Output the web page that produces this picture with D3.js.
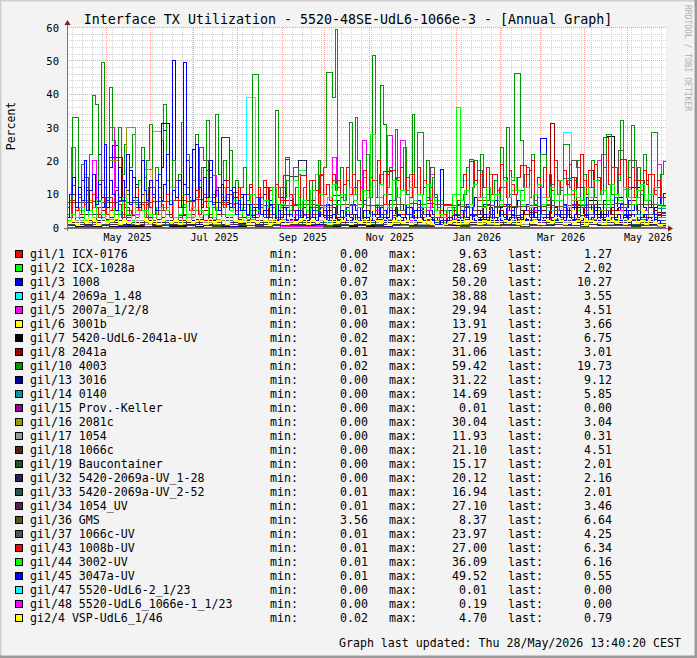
<!DOCTYPE html>
<html>
<head>
<meta charset="utf-8">
<script src="https://cdn.jsdelivr.net/npm/d3@7"></script>
<style>
  html, body { margin: 0; padding: 0; background: #f3f3f3; }
  svg { display: block; font-family: "DejaVu Sans Mono", monospace; }
</style>
</head>
<body>
<svg id="chart" width="697" height="658"></svg>
<script>
// ---- texts ----
const title = "Interface TX Utilization - 5520-48SE-UdL6-1066e-3 - [Annual Graph]";
const yLabel = "Percent";
const footer = "Graph last updated: Thu 28/May/2026 13:40:20 CEST";
const watermark = "RRDTOOL / TOBI OETIKER";

// ---- time range ----
const endTime = new Date(2026, 4, 28, 13, 40, 20);
const spanDays = 420;
const yTicks = [0, 10, 20, 30, 40, 50, 60];

// ---- legend ----
const names = [
  "gil/1 ICX-0176", "gil/2 ICX-1028a", "gil/3 1008", "gil/4 2069a_1.48",
  "gil/5 2007a_1/2/8", "gil/6 3001b", "gil/7 5420-UdL6-2041a-UV", "gil/8 2041a",
  "gil/10 4003", "gil/13 3016", "gil/14 0140", "gil/15 Prov.-Keller",
  "gil/16 2081c", "gil/17 1054", "gil/18 1066c", "gil/19 Baucontainer",
  "gil/32 5420-2069a-UV_1-28", "gil/33 5420-2069a-UV_2-52", "gil/34 1054_UV",
  "gil/36 GMS", "gil/37 1066c-UV", "gil/43 1008b-UV", "gil/44 3002-UV",
  "gil/45 3047a-UV", "gil/47 5520-UdL6-2_1/23", "gil/48 5520-UdL6_1066e-1_1/23",
  "gi2/4 VSP-UdL6_1/46"
];
const minValues = [0.00, 0.02, 0.07, 0.03, 0.01, 0.00, 0.02, 0.01, 0.02, 0.00, 0.00, 0.00, 0.00, 0.00,
  0.00, 0.00, 0.00, 0.01, 0.01, 3.56, 0.01, 0.01, 0.01, 0.01, 0.00, 0.00, 0.02];
const maxValues = [9.63, 28.69, 50.20, 38.88, 29.94, 13.91, 27.19, 31.06, 59.42, 31.22, 14.69, 0.01, 30.04, 11.93,
  21.10, 15.17, 20.12, 16.94, 27.10, 8.37, 23.97, 27.00, 36.09, 49.52, 0.01, 0.19, 4.70];
const lastValues = [1.27, 2.02, 10.27, 3.55, 4.51, 3.66, 6.75, 3.01, 19.73, 9.12, 5.85, 0.00, 3.04, 0.31,
  4.51, 2.01, 2.16, 2.01, 3.46, 6.64, 4.25, 6.34, 6.16, 0.55, 0.00, 0.00, 0.79];

// ---- series (percent, evenly spaced over the range) ----
const gil1 = [
  2, 3, 1, 4, 2, 5, 3, 1, 2, 4, 3, 6, 2, 1, 3, 5, 2, 4, 7, 3,
  5, 2, 6, 4, 3, 8, 5, 2, 4, 6, 3, 9.63, 5, 4, 7, 3, 6, 2, 5, 4,
  3, 1, 2, 5, 7, 4, 3, 6, 8, 5, 4, 7, 3, 5, 6, 4, 8, 3, 5, 7,
  4, 6, 3, 5, 4, 7, 2, 4, 3, 1.27];
const gil2 = [
  3, 5, 2, 6, 4, 3, 7, 2, 5, 4, 28.69, 6, 3, 8, 4, 5, 3, 6, 9, 4,
  5, 4, 4, 5, 4, 6, 4, 17, 5, 16, 6, 8, 5, 10, 7, 4, 9, 6, 5, 3,
  2, 3, 6, 8, 5, 10, 7, 6, 9, 5, 8, 6, 11, 7, 5, 9, 6, 8, 10, 5,
  7, 9, 6, 8, 5, 7, 9, 4, 6, 2.02];
const gil3 = [
  4, 8, 12.5, 6, 10, 14, 7, 11, 5, 16, 9, 22, 6, 12, 8, 18, 24.7, 24.7, 9, 14, 6, 11, 17, 8, 13, 5, 10, 15, 7, 12,
  9, 14, 6, 18, 29, 10, 7, 50.2, 12, 16, 8, 13, 20, 9, 23.5, 11, 14, 6, 18, 17, 17, 9, 12, 5, 10, 14, 7, 11, 6, 9,
  7, 10, 5, 8, 12, 6, 9, 4, 7, 10, 5, 8, 6, 3, 7, 9, 4, 6, 8, 3, 5, 7, 4, 6, 3, 8, 5, 4, 6, 3,
  5, 7, 3, 6, 4, 8, 5, 3, 6, 4, 7, 5, 3, 6, 8, 4, 5, 3, 7, 4, 6, 5, 3, 8, 4, 6, 3, 5, 7, 4,
  6, 3, 5, 8, 4, 6, 3, 5, 4, 2, 3, 17.5, 4, 3, 5, 6, 4, 8, 5, 3, 7, 4, 6, 9, 5, 4, 7, 3, 6, 5,
  8, 4, 6, 3, 7, 5, 4, 6, 8, 3, 5, 7, 4, 6, 3, 5, 26.8, 26.8, 5, 4, 8, 6, 3, 5, 7, 4, 6, 5, 8, 3,
  6, 4, 9, 5, 7, 4, 6, 3, 8, 5, 4, 6, 9, 5, 7, 4, 6, 8, 5, 7, 4, 11, 6, 5, 8, 6, 4, 7, 9, 10.27];
const gil4 = [
  1, 2, 0.5, 3, 1, 2, 4, 1, 2, 3, 1, 2, 1, 3, 2, 1, 4, 2, 1, 3,
  2, 38.88, 2, 1, 3, 2, 1, 4, 2, 3, 1, 2, 3, 1, 2, 4, 1, 2, 3, 1,
  2, 1, 3, 2, 1, 2, 14, 3, 1, 2, 4, 1, 2, 3, 1, 2, 5, 3, 28.6, 2,
  1, 3, 2, 4, 1, 2, 3, 2, 4, 3.55];
const gil5 = [
  2, 24, 3, 1, 2, 4, 20, 2, 3, 1, 29.94, 2, 1, 3, 2, 1, 4, 2, 1, 3,
  2, 1, 3, 2, 1, 2, 4, 1, 2, 3, 1, 2, 3, 2, 15.5, 2, 1, 3, 2, 1,
  2, 3, 1, 2, 4, 1, 2, 3, 1, 2, 3, 1, 2, 4, 2, 1, 3, 2, 1, 2,
  3, 2, 21, 2, 1, 3, 2, 4, 2, 26, 3, 2, 5, 3, 2, 27.7, 3, 2, 26, 3,
  2, 4, 3, 2, 5, 16, 3, 2, 1, 2, 3, 2, 4, 3, 2, 5, 3, 2, 4, 3,
  2, 4, 3, 5, 2, 3, 4, 2, 3, 5, 2, 3, 4, 2, 5, 3, 2, 4, 3, 2,
  3, 5, 2, 4, 20, 3, 2, 4, 3, 5, 2, 3, 4, 2, 3, 5, 2, 4, 19, 4.51];
const gil6 = [
  1, 3, 2, 4, 1, 2, 5, 3, 1, 2, 4, 2, 3, 1, 5, 2, 3, 1, 2, 4,
  2, 3, 1, 5, 2, 3, 4, 10, 12, 3, 2, 5, 3, 2, 4, 9, 3, 2, 6, 3,
  2, 4, 1, 3, 2, 5, 3, 2, 4, 1, 3, 2, 5, 3, 2, 4, 3, 1, 2, 5,
  3, 2, 4, 1, 3, 5, 2, 11, 3, 4, 2, 5, 3, 2, 6, 3, 4, 2, 5, 3,
  13.91, 4, 2, 5, 3, 2, 4, 1, 1, 2, 3, 5, 2, 4, 3, 6, 2, 3, 5, 2,
  4, 3, 6, 2, 5, 3, 2, 4, 3, 6, 2, 5, 3, 4, 2, 6, 3, 2, 5, 3,
  4, 2, 5, 3, 8, 2, 4, 3, 6, 2, 5, 3, 4, 2, 5, 3, 2, 4, 3, 3.66];
const gil7 = [
  0.1, 0.2, 0.1, 0.3, 0.1, 0.2, 0.1, 0.2, 0.3, 0.1, 0.2, 0.1, 0.3, 0.2, 0.1, 0.2, 0.1, 0.3, 0.2, 0.1,
  0.2, 0.1, 0.3, 0.2, 0.1, 0.2, 0.3, 0.1, 0.2, 0.1, 0.3, 0.2, 0.1, 0.2, 0.1, 0.3, 0.5, 0.2, 1, 0.5,
  1, 0.3, 0.2, 1, 2, 0.5, 1, 2, 3, 1, 2, 4, 1, 3, 0.5, 5, 2, 4, 1, 6,
  3, 8, 4, 27.19, 9, 5, 12, 7, 10, 6.75];
const gil8 = [
  2, 10, 3, 1, 4, 2, 3, 1, 5, 2, 3, 4, 21, 2, 3, 1, 6, 2, 3, 4,
  2, 5, 3, 1, 4, 2, 3, 6, 2, 4, 3, 1, 5, 2, 3, 4, 2, 8, 3, 2,
  4, 3, 2, 5, 3, 2, 12, 3, 4, 2, 6, 20.5, 3, 2, 5, 4, 3, 8, 2, 4,
  3, 5, 2, 4, 3, 6, 2, 4, 7, 3, 5, 2, 4, 6, 3, 2, 5, 4, 3, 6,
  4, 3, 5, 2, 4, 3, 2, 1, 2, 3, 5, 4, 3, 6, 2, 4, 5, 3, 7, 4,
  3, 5, 4, 2, 6, 3, 5, 4, 3, 6, 4, 5, 3, 31.06, 4, 3, 6, 5, 15, 4,
  3, 6, 17, 4, 5, 3, 7, 4, 5, 6, 3, 4, 8, 5, 3, 4, 10, 5, 4, 3.01];
const gil10 = [
  4, 8, 33, 33, 12, 19, 16, 10, 22, 39.5, 37, 14, 49.5, 18, 9, 42, 26, 12, 30, 16, 25, 10, 18, 28, 8, 14, 24, 11, 20, 31,
  12, 18, 9, 26, 37, 14, 8, 20, 12, 16, 31.5, 10, 22, 8, 14, 28, 12, 18, 9, 32, 15, 10, 34, 16, 8, 20, 12, 23, 9, 14,
  6, 12, 18, 8, 10, 46, 46, 10, 6, 14, 8, 12, 6, 35, 12, 5, 9, 14, 4, 10, 7, 16, 5, 12, 8, 6, 14, 5, 20, 10,
  18, 46.5, 46.5, 39, 59.42, 12, 18, 8, 14, 31.6, 10, 33, 20, 12, 15, 22, 9, 51.5, 14, 20, 42.7, 31, 12, 18, 8, 29.5, 14, 18, 24, 10,
  16, 34, 12, 28.6, 28.6, 12, 20, 8, 15, 10, 6, 4, 3, 5, 3, 4, 6, 4, 8, 10, 18, 7, 12, 20, 9, 22, 12, 8, 16, 10,
  14, 8, 24, 12, 30, 10, 14, 46.3, 46.3, 26, 12, 18, 9, 22, 7, 12, 22, 22, 9, 16, 8, 18, 10, 14, 25, 25, 12, 8, 14, 20,
  8, 16, 10, 12, 20, 9, 14, 10, 18, 28, 28, 10, 18, 14, 32, 12, 9, 20, 30.7, 14, 18, 10, 22, 14, 8, 28.6, 28.6, 12, 16, 19.73];
const gil13 = [
  0.5, 1, 0.3, 2, 0.5, 1.5, 0.4, 1, 0.6, 2, 1, 31.22, 1, 0.5, 2, 0.8, 1.5, 0.5, 1, 0.4,
  1.2, 0.5, 1, 0.3, 0.6, 1.5, 0.5, 1, 0.4, 0.8, 1.5, 0.5, 1, 0.6, 2, 0.5, 1, 0.4, 1.5, 0.5,
  0.8, 0.3, 0.5, 1, 0.6, 2, 0.5, 1, 2.5, 0.8, 2, 1, 0.6, 3, 1, 2, 1.5, 4, 1, 2,
  3, 1.5, 5, 2, 4, 3, 7, 2, 6, 9.12];
const gil14 = [
  1, 2, 0.5, 3, 1, 0.8, 4, 0.5, 2, 1, 2.5, 1, 0.5, 2, 1, 3, 1.5, 0.5, 2, 1,
  1.5, 0.5, 2, 1, 2.5, 0.5, 1.5, 1, 2, 0.5, 1.5, 2.5, 1, 2, 0.5, 1.5, 3, 1, 2, 0.5,
  1.5, 1, 0.5, 2, 1, 2.5, 1.5, 0.5, 2, 1, 3, 1.5, 2.5, 1, 2, 4, 1.5, 2.5, 14.69, 2,
  1, 2.5, 1.5, 3, 2, 1, 4, 2.5, 1.5, 5.85];
const gil15 = [0, 0, 0.01, 0, 0, 0, 0.01, 0, 0, 0, 0, 0.01, 0, 0];
const gil16 = [
  1.5, 3, 8, 2, 4, 20, 2, 30.04, 3, 17.5, 4, 1.5, 2, 1, 3, 1.5, 4, 1, 2, 1.5,
  1, 2.5, 1.5, 1, 2, 0.5, 1.5, 1, 2, 1.5, 1, 2.5, 1.5, 1, 2, 1.5, 1, 2.5, 1.5, 2,
  1, 1.5, 1, 2, 1.5, 2.5, 1, 2, 1.5, 2.5, 3, 2, 1.5, 2.5, 2, 3, 1.5, 2.5, 2, 8,
  12, 2.5, 5, 2, 4, 11.5, 2.5, 2, 4, 3.04];
const gil17 = [
  1, 2, 1.5, 3, 0.8, 2.5, 1, 4, 2, 0.8, 2.5, 1.5, 11.93, 2, 0.8, 3, 1.5, 2.5, 0.8, 2,
  1.5, 3, 0.8, 2, 1.5, 2.5, 0.8, 3.5, 1.5, 2, 0.8, 2.5, 1.5, 3, 0.8, 2, 1.5, 2.5, 0.8, 2,
  1.5, 0.8, 0.4, 1.5, 2, 0.8, 2.5, 1.5, 2, 0.8, 3, 1.5, 2, 0.8, 2.5, 1.5, 0.8, 2, 1.5, 2.5,
  0.8, 2, 1.5, 0.8, 2.5, 1.5, 0.8, 2, 0.5, 0.31];
const gil18 = [
  1.5, 3, 2, 4, 2.5, 21.1, 2, 3.5, 1.5, 3, 2.5, 5, 2, 3.5, 1.5, 2.5, 4, 2, 3, 1.5,
  2.5, 3.5, 2, 3, 1.5, 4, 2.5, 2, 3, 1.5, 3.5, 2.5, 2, 4, 1.5, 3, 2.5, 2, 3.5, 1.5,
  1, 1.5, 2.5, 3, 2, 3.5, 2.5, 1.5, 4, 2, 3, 2.5, 3.5, 2, 4.5, 2.5, 3, 2, 4, 2.5,
  3.5, 2, 3, 6, 2.5, 3.5, 2, 3, 2.5, 4.51];
const gil19 = [
  0.5, 1, 0.3, 1.5, 0.5, 1, 2, 0.5, 1, 0.3, 1.5, 0.5, 1, 2, 0.5, 1.5, 1, 0.3, 0.5, 2,
  1, 0.5, 1.5, 0.3, 1, 0.5, 15.17, 1, 0.5, 1.5, 0.3, 1, 0.5, 2, 0.5, 1, 0.3, 1.5, 0.5, 1,
  0.3, 0.5, 0.2, 1, 0.5, 1.5, 0.3, 1, 0.5, 2, 1, 0.5, 1.5, 0.3, 1, 0.5, 1.5, 1, 0.5, 2,
  0.3, 1, 0.5, 1.5, 1, 0.5, 0.3, 1, 0.5, 2.01];
const gil32 = [
  0.5, 1.5, 1, 2, 0.5, 1.5, 1, 1.5, 0.5, 2, 1, 1.5, 0.5, 1.5, 1, 2.5, 0.5, 1.5, 1, 1.5,
  0.5, 2, 1, 1.5, 0.5, 1.5, 1, 20.12, 0.5, 1.5, 1, 1.5, 0.5, 2, 1, 1.5, 0.5, 1.5, 1, 1.5,
  0.5, 0.3, 0.5, 1.5, 1, 1.5, 0.5, 2, 1, 1.5, 0.5, 1.5, 1, 2.5, 0.5, 1.5, 1, 2, 0.5, 1.5,
  1, 1.5, 0.5, 2, 1, 1.5, 0.5, 1.5, 1, 2.16];
const gil33 = [
  1, 1.5, 0.5, 1.5, 1, 2, 0.5, 1.5, 1, 1.5, 0.5, 2, 1, 1.5, 0.5, 1.5, 1, 1.5, 0.5, 2,
  1, 1.5, 0.5, 1.5, 1, 2, 0.5, 1.5, 1, 1.5, 0.5, 2, 1, 1.5, 0.5, 1.5, 1, 16.94, 0.5, 1.5,
  1, 0.3, 0.5, 1.5, 1, 1.5, 0.5, 2, 1, 1.5, 0.5, 1.5, 1, 2, 0.5, 1.5, 1, 1.5, 0.5, 2,
  12, 1.5, 1, 1.5, 0.5, 2, 1, 1.5, 0.5, 2.01];
const gil34 = [
  0.5, 1, 0.3, 1.5, 0.5, 1, 2, 0.5, 1, 0.3, 1.5, 0.5, 1, 2, 0.5, 1.5, 1, 0.5, 27.1, 1,
  0.5, 1.5, 0.3, 1, 0.5, 2, 1, 0.5, 1.5, 0.3, 1, 0.5, 1.5, 1, 0.5, 2, 0.3, 1, 0.5, 1.5,
  1, 0.5, 0.3, 0.5, 1, 1.5, 0.5, 1, 2, 0.5, 1.5, 1, 0.5, 2, 1, 1.5, 0.5, 1, 2, 0.5,
  1.5, 1, 2.5, 0.5, 1.5, 1, 2, 0.5, 1.5, 3.46];
const gil36 = [
  7.5, 7.6, 7.4, 7.7, 7.5, 7.6, 7.8, 7.5, 7.4, 7.6, 7.7, 7.9, 8.1, 8.0, 7.8, 8.37, 7.9, 7.6, 7.4, 7.2,
  7.0, 6.8, 6.9, 6.7, 6.8, 6.6, 6.7, 6.9, 6.8, 6.7, 6.6, 6.8, 6.9, 6.7, 6.8, 6.6, 6.7, 6.9, 6.8, 7.0,
  7.1, 7.0, 7.2, 6.9, 6.7, 6.5, 6.4, 3.56, 6.3, 6.5, 6.4, 6.2, 6.4, 6.3, 6.5, 6.4, 6.6, 6.3, 6.5, 6.7,
  6.6, 6.8, 6.9, 7.0, 7.1, 6.9, 7.0, 6.8, 6.9, 6.64];
const gil37 = [
  2, 12.5, 1.5, 4, 15, 3, 1, 6, 2, 9, 1.5, 4, 8, 2, 5, 1, 3, 7, 1.5, 12,
  2, 5, 1, 4, 8, 1.5, 3, 6, 2, 5, 9, 23.97, 20, 3, 6, 1.5, 4, 2, 5, 10.5,
  3, 6, 1.5, 5, 2, 9, 4, 1.5, 7, 3, 12, 21, 5, 18, 3, 8, 2, 6, 4, 15.5,
  5, 2, 14, 4, 10, 3, 7, 12, 2, 5, 11, 3, 6, 16, 4, 10, 2, 15, 5, 11,
  3, 12, 6, 4, 9, 18, 3, 1.5, 1, 2, 4, 7, 3, 11, 20.5, 5, 17, 4, 10, 3,
  6, 12, 15, 4, 10, 3, 11, 16, 5, 8, 12, 4, 7, 13, 5, 11, 3, 14, 20, 18,
  6, 12, 4, 14, 8, 22, 5, 13, 9, 23, 6, 12, 20, 5, 14, 8, 4, 11, 12, 4.25];
const gil43 = [
  6, 3, 8, 5, 9, 4, 7, 12, 5, 10, 6, 3, 14, 8, 4, 9, 5, 11, 7, 3, 8, 6, 4, 9, 12, 5, 7, 3, 10, 6,
  9, 4, 12, 7, 5, 10, 3, 8, 14, 6, 9, 4, 12, 5, 8, 11, 4, 7, 10, 6, 3, 9, 5, 12, 8, 6, 14, 10, 7, 5,
  12, 9, 6, 10, 13, 7, 9, 12, 6, 14, 8, 11, 7, 13, 9, 6, 15.5, 15.5, 10, 7, 12, 9, 15.5, 15.5, 8, 14, 14, 11, 7, 16,
  10, 13, 8, 16, 11, 14, 9, 13, 18, 10, 16, 12, 14, 8, 17, 11, 15, 14, 9, 20, 13, 7, 16, 17, 17, 12, 9, 18, 11, 15,
  9, 16, 12, 18, 10, 14, 8, 12, 6, 9, 5, 3, 4, 2, 3, 5, 4, 8, 12, 16, 11, 19.7, 19.7, 14, 9, 16, 12, 18, 10, 16,
  16, 11, 19, 14, 9, 17, 13, 10, 15, 18.7, 18.7, 12, 17, 20, 10, 15, 12, 18, 9, 16, 11, 20, 14, 12, 17, 13, 19, 10, 15, 12,
  22, 14, 10, 17, 12, 19, 15, 11, 27, 27, 13, 18, 10, 16, 20.5, 20.5, 12, 15, 18, 9, 14, 11, 17, 13, 16, 16, 10, 14, 9, 6.34];
const gil44 = [
  2, 4, 3, 6, 2, 5, 3, 8, 4, 2, 6, 3, 5, 9, 4, 2, 7, 3, 5, 4,
  3, 6, 2, 5, 8, 3, 4, 7, 2, 6, 3, 5, 4, 9, 3, 6, 12, 4, 5, 8,
  4, 6, 3, 10, 5, 4, 8, 6, 12, 4, 7, 5, 9, 14, 6, 8, 5, 11, 7, 10,
  6, 9, 13, 7, 10, 5, 12, 8, 6, 11, 9, 28, 7, 13, 10, 6, 14, 9, 11, 7,
  12, 8, 10, 6, 13, 9, 5, 4, 3, 6, 4, 36.09, 8, 11, 7, 13, 9, 6, 12, 8,
  10, 7, 14, 9, 15, 11, 8, 12, 6, 10, 13, 7, 9, 12, 8, 14, 10, 6, 11, 9,
  7, 12, 9, 14, 8, 11, 6, 13, 10, 8, 12, 9, 7, 11, 13, 8, 10, 12, 7, 6.16];
const gil45 = [
  3, 10, 15, 6, 12, 8, 20, 5, 11, 16, 7, 13, 9, 25, 6, 14, 10, 5, 18, 8, 12, 22, 7, 15, 9, 6, 20, 11, 8, 14,
  10, 5, 16, 8, 13, 22, 7, 11, 9, 14, 6, 49.52, 10, 18, 8, 25, 12, 6, 15, 9, 20, 7, 11, 5, 13, 8, 10, 6, 12, 4,
  8, 5, 10, 4, 7, 3, 6, 9, 4, 5, 3, 7, 4, 2, 5, 3, 6, 2, 4, 3, 2, 5, 3, 4, 2, 6, 3, 2, 4, 3,
  5, 2, 3, 4, 2, 3, 5, 2, 4, 3, 2, 4, 3, 2, 5, 3, 2, 4, 2, 3, 4, 2, 3, 5, 2, 3, 4, 2, 3, 2,
  4, 3, 2, 5, 3, 2, 4, 3, 2, 1, 1, 2, 1, 2, 3, 2, 4, 3, 2, 5, 3, 2, 4, 2, 3, 2, 4, 3, 2, 5,
  3, 2, 4, 3, 2, 3, 5, 2, 3, 4, 2, 3, 2, 4, 3, 5, 2, 3, 4, 2, 3, 2, 4, 3, 2, 5, 3, 2, 4, 3,
  2, 3, 4, 2, 3, 5, 2, 3, 2, 4, 3, 2, 3, 4, 2, 3, 5, 2, 4, 3, 2, 3, 4, 2, 3, 2, 4, 2, 1, 0.55];
const gil47 = [0, 0, 0.01, 0, 0, 0, 0, 0.01, 0, 0, 0, 0, 0, 0];
const gil48 = [0, 0.02, 0, 0.05, 0, 0.19, 0.01, 0, 0.03, 0, 0.02, 0, 0.01, 0];
const gi2_4 = [
  1.5, 2, 1, 2.5, 1.5, 3, 2, 1, 2.5, 1.5, 2, 3, 1, 2, 1.5, 2.5, 1, 3, 2, 1.5,
  2.5, 1, 2, 3, 1.5, 2, 1, 2.5, 2, 1.5, 3, 2, 1, 2.5, 1.5, 2, 3, 1, 4.7, 2,
  1.5, 2.5, 1, 2, 1.5, 3, 2, 1, 2.5, 1.5, 2, 1, 3, 1.5, 2, 2.5, 1, 2, 1.5, 3,
  2, 1, 2.5, 1.5, 2, 3, 1, 2, 1.5, 2.5, 1, 3, 2, 1.5, 2.5, 1, 2, 3, 1.5, 2,
  1, 2.5, 2, 1.5, 3, 1, 0.5, 0.5, 1, 1.5, 2, 1, 2.5, 1.5, 2, 3, 1, 2, 1.5, 2.5,
  1, 3, 2, 1.5, 2.5, 1, 2, 3, 1.5, 2, 1, 2.5, 2, 1.5, 3, 2, 1, 2.5, 1.5, 2,
  3, 1, 2, 1.5, 2.5, 1, 3, 2, 1.5, 2.5, 1, 2, 3, 1.5, 2, 1, 2.5, 1.5, 1, 0.79];

const seriesValues = [gil1, gil2, gil3, gil4, gil5, gil6, gil7, gil8, gil10, gil13, gil14, gil15,
  gil16, gil17, gil18, gil19, gil32, gil33, gil34, gil36, gil37, gil43, gil44, gil45, gil47, gil48, gi2_4];

// ---- style ----
const palette = [
  "#ff0000", "#00ff00", "#0000ff", "#00ffff", "#ff00ff", "#ffff00", "#000000", "#990000",
  "#009900", "#000099", "#009999", "#990099", "#999900", "#999999", "#552222", "#225522",
  "#222255", "#225555", "#552255", "#555522", "#555555", "#ff0000", "#00ff00", "#0000ff",
  "#00ffff", "#ff00ff", "#ffff00"
];

const W = 697, H = 658;
const plot = { left: 67, right: 666, top: 28, bottom: 228 };
const startTime = d3.timeDay.offset(endTime, -spanDays);

const x = d3.scaleTime().domain([startTime, endTime]).range([plot.left, plot.right]);
const y = d3.scaleLinear().domain([0, 60]).range([plot.bottom - 0.5, plot.top - 0.5]);

const svg = d3.select("#chart");
svg.append("rect").attr("width", W).attr("height", H).attr("fill", "#f3f3f3");

// frame shading
svg.append("path").attr("d", `M0,${H} V0 H${W}`).attr("fill", "none")
  .attr("stroke", "#cfcfcf").attr("stroke-width", 3);
svg.append("path").attr("d", `M0,${H - 1} H${W - 1} V0`).attr("fill", "none")
  .attr("stroke", "#9b9b9b").attr("stroke-width", 3);

svg.append("rect")
  .attr("x", plot.left).attr("y", plot.top)
  .attr("width", plot.right - plot.left).attr("height", plot.bottom - plot.top)
  .attr("fill", "#ffffff");

// grid
const grid = svg.append("g").attr("shape-rendering", "crispEdges").attr("stroke-dasharray", "1,1");
const minorY = d3.range(0, 61, 2).filter((v) => v % 10 !== 0);
const yPix = (v) => Math.floor(y(v)) + 0.5;
grid.selectAll(".hmin").data(minorY).join("line")
  .attr("x1", plot.left).attr("x2", plot.right)
  .attr("y1", yPix).attr("y2", yPix)
  .attr("stroke", "#d2d2d2");
const weeks = d3.timeMonday.range(startTime, endTime);
grid.selectAll(".vmin").data(weeks).join("line")
  .attr("x1", (d) => Math.round(x(d)) + 0.5).attr("x2", (d) => Math.round(x(d)) + 0.5)
  .attr("y1", plot.top).attr("y2", plot.bottom)
  .attr("stroke", "#d2d2d2");
grid.selectAll(".hmaj").data(yTicks.slice(1)).join("line")
  .attr("x1", plot.left).attr("x2", plot.right)
  .attr("y1", yPix).attr("y2", yPix)
  .attr("stroke", "#f0a0a0");
const months = d3.timeMonth.range(startTime, endTime);
grid.selectAll(".vmaj").data(months).join("line")
  .attr("x1", (d) => Math.round(x(d)) + 0.5).attr("x2", (d) => Math.round(x(d)) + 0.5)
  .attr("y1", plot.top).attr("y2", plot.bottom)
  .attr("stroke", "#f0a0a0");

// series
svg.append("clipPath").attr("id", "clip").append("rect")
  .attr("x", plot.left).attr("y", plot.top - 2)
  .attr("width", plot.right - plot.left).attr("height", plot.bottom - plot.top + 2);

const line = d3.line()
  .x((d) => x(d[0]))
  .y((d) => y(d[1]))
  .curve(d3.curveStepAfter);

function toPoints(values) {
  const step = (endTime - startTime) / values.length;
  const pts = values.map((v, i) => [new Date(+startTime + i * step), v]);
  pts.push([endTime, values[values.length - 1]]);
  return pts;
}

svg.append("g")
  .attr("clip-path", "url(#clip)")
  .attr("fill", "none")
  .attr("stroke-width", 1)
  .attr("shape-rendering", "crispEdges")
  .selectAll("path")
  .data(seriesValues)
  .join("path")
  .attr("stroke", (d, i) => palette[i])
  .attr("d", (d) => line(toPoints(d)));

// axes
const axisColor = "#7a7070";
const arrowColor = "#8b1a1a";
svg.append("line").attr("x1", plot.left + 0.5).attr("x2", plot.left + 0.5)
  .attr("y1", plot.bottom + 3).attr("y2", plot.top - 4)
  .attr("stroke", axisColor).attr("shape-rendering", "crispEdges");
svg.append("line").attr("x1", plot.left - 3).attr("x2", plot.right + 2)
  .attr("y1", plot.bottom + 0.5).attr("y2", plot.bottom + 0.5)
  .attr("stroke", axisColor).attr("shape-rendering", "crispEdges");
svg.append("path")
  .attr("d", `M${plot.left - 2.5},${plot.top - 3} L${plot.left + 0.5},${plot.top - 8} L${plot.left + 3.5},${plot.top - 3} Z`)
  .attr("fill", arrowColor);
svg.append("path")
  .attr("d", `M${plot.right + 2},${plot.bottom - 2.5} L${plot.right + 7},${plot.bottom + 0.5} L${plot.right + 2},${plot.bottom + 3.5} Z`)
  .attr("fill", arrowColor);

// y tick labels
svg.append("g").selectAll("text").data(yTicks).join("text")
  .attr("x", 59).attr("y", (d) => y(d) + 4)
  .attr("text-anchor", "end")
  .attr("font-size", 10.5)
  .attr("fill", "#000")
  .text((d) => d);

// x tick labels (every second month, centred half a month in)
const labelMonths = months.filter((m) => m.getMonth() % 2 === 0);
svg.append("g").selectAll("text").data(labelMonths).join("text")
  .attr("x", (d) => x(d3.timeDay.offset(d, 15)))
  .attr("y", 241)
  .attr("text-anchor", "middle")
  .attr("font-size", 10)
  .attr("fill", "#000")
  .text(d3.timeFormat("%b %Y"));

// title
svg.append("text").attr("x", 348).attr("y", 24)
  .attr("text-anchor", "middle").attr("font-size", 13.3).attr("fill", "#000")
  .text(title);

// y label
svg.append("text").attr("transform", "translate(15,126) rotate(-90)")
  .attr("text-anchor", "middle").attr("font-size", 11.5).attr("fill", "#000")
  .text(yLabel);

// watermark
svg.append("text").attr("transform", "translate(685,5) rotate(90)")
  .attr("font-size", 8).attr("fill", "#b0b0b0")
  .text(watermark);

// legend
const legend = svg.append("g").attr("font-size", 11.6).attr("fill", "#000");
const rows = legend.selectAll("g").data(names).join("g")
  .attr("transform", (d, i) => `translate(0,${254 + i * 14})`);
rows.append("rect")
  .attr("x", 15.5).attr("y", -3.5).attr("width", 7).attr("height", 7)
  .attr("fill", (d, i) => palette[i]).attr("stroke", "#000")
  .attr("shape-rendering", "crispEdges");
rows.append("text").attr("x", 30).attr("y", 4).text((d) => d);
rows.append("text").attr("x", 270).attr("y", 4).text("min:");
rows.append("text").attr("x", 368).attr("y", 4).attr("text-anchor", "end")
  .text((d, i) => minValues[i].toFixed(2));
rows.append("text").attr("x", 389).attr("y", 4).text("max:");
rows.append("text").attr("x", 487).attr("y", 4).attr("text-anchor", "end")
  .text((d, i) => maxValues[i].toFixed(2));
rows.append("text").attr("x", 508).attr("y", 4).text("last:");
rows.append("text").attr("x", 612).attr("y", 4).attr("text-anchor", "end")
  .text((d, i) => lastValues[i].toFixed(2));

// footer
svg.append("text").attr("x", 681).attr("y", 647)
  .attr("text-anchor", "end").attr("font-size", 11.6).attr("fill", "#000")
  .text(footer);
</script>
</body>
</html>
